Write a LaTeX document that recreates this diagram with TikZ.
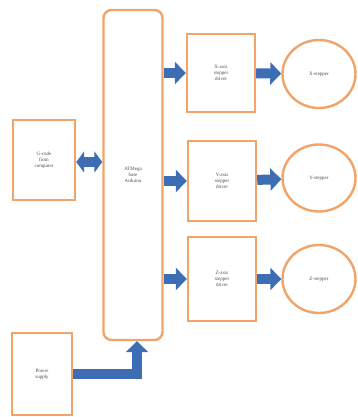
\documentclass[tikz,border=0pt]{standalone}
\usepackage{fontspec}
\setmainfont{Liberation Serif}
\usetikzlibrary{shapes.geometric, arrows.meta}

\definecolor{boxorange}{HTML}{F0A469}
\definecolor{arrowblue}{HTML}{3D6DB5}

\begin{document}
\begin{tikzpicture}[x=1pt, y=-1pt]

\tikzset{
  blockbox/.style={draw=boxorange, line width=2.4pt, fill=white, align=center,
    text=black!70, font=\fontsize{5}{6}\selectfont},
  motor/.style={blockbox, ellipse, inner sep=0pt},
  blockarrow/.style={draw=arrowblue, line width=10pt,
    -{Triangle[width=22pt, length=11pt]}},
  twinarrow/.style={draw=arrowblue, line width=10pt,
    {Triangle[width=21pt, length=8pt]}-{Triangle[width=21pt, length=8pt]}}
}

\useasboundingbox (0,0) rectangle (357,417);

% 1. Eingang und Steuerung
\node[blockbox, minimum width=62pt, minimum height=80pt] (gcode) at (44,160) {G-code\\from\\computer};
\node[blockbox, rounded corners=8pt, minimum width=59pt, minimum height=330pt] (arduino) at (133,175) {ATMega\\base\\Arduino};
\node[blockbox, minimum width=60pt, minimum height=82pt] (power) at (42,374) {Power\\supply};

% 2. Treiber
\node[blockbox, minimum width=68pt, minimum height=78pt] (xdriver) at (221,73) {X-axis\\stepper\\driver};
\node[blockbox, minimum width=68pt, minimum height=80pt] (ydriver) at (222,181) {Y-axis\\stepper\\driver};
\node[blockbox, minimum width=68pt, minimum height=84pt] (zdriver) at (222,279) {Z-axis\\stepper\\driver};

% 3. Schrittmotoren
\node[motor, minimum width=73pt, minimum height=68pt] (xstepper) at (319,74) {X-stepper};
\node[motor, minimum width=73pt, minimum height=67pt] (ystepper) at (319,178) {Y-stepper};
\node[motor, minimum width=73pt, minimum height=68pt] (zstepper) at (319,279) {Z-stepper};

% 4. Verbindungen
\draw[twinarrow] (gcode.east |- 0,162) -- (arduino.west |- 0,162);
\draw[blockarrow] (arduino.east |- xdriver.west) -- (xdriver.west);
\draw[blockarrow] (arduino.east |- ydriver.west) -- (ydriver.west);
\draw[blockarrow] (arduino.east |- zdriver.west) -- (zdriver.west);
\draw[blockarrow] (xdriver) -- (xstepper);
\draw[blockarrow] (ydriver) -- (ystepper);
\draw[blockarrow] (zdriver) -- (zstepper);
\draw[blockarrow] (power.east) -| ([xshift=4pt]arduino.south);

\end{tikzpicture}
\end{document}
